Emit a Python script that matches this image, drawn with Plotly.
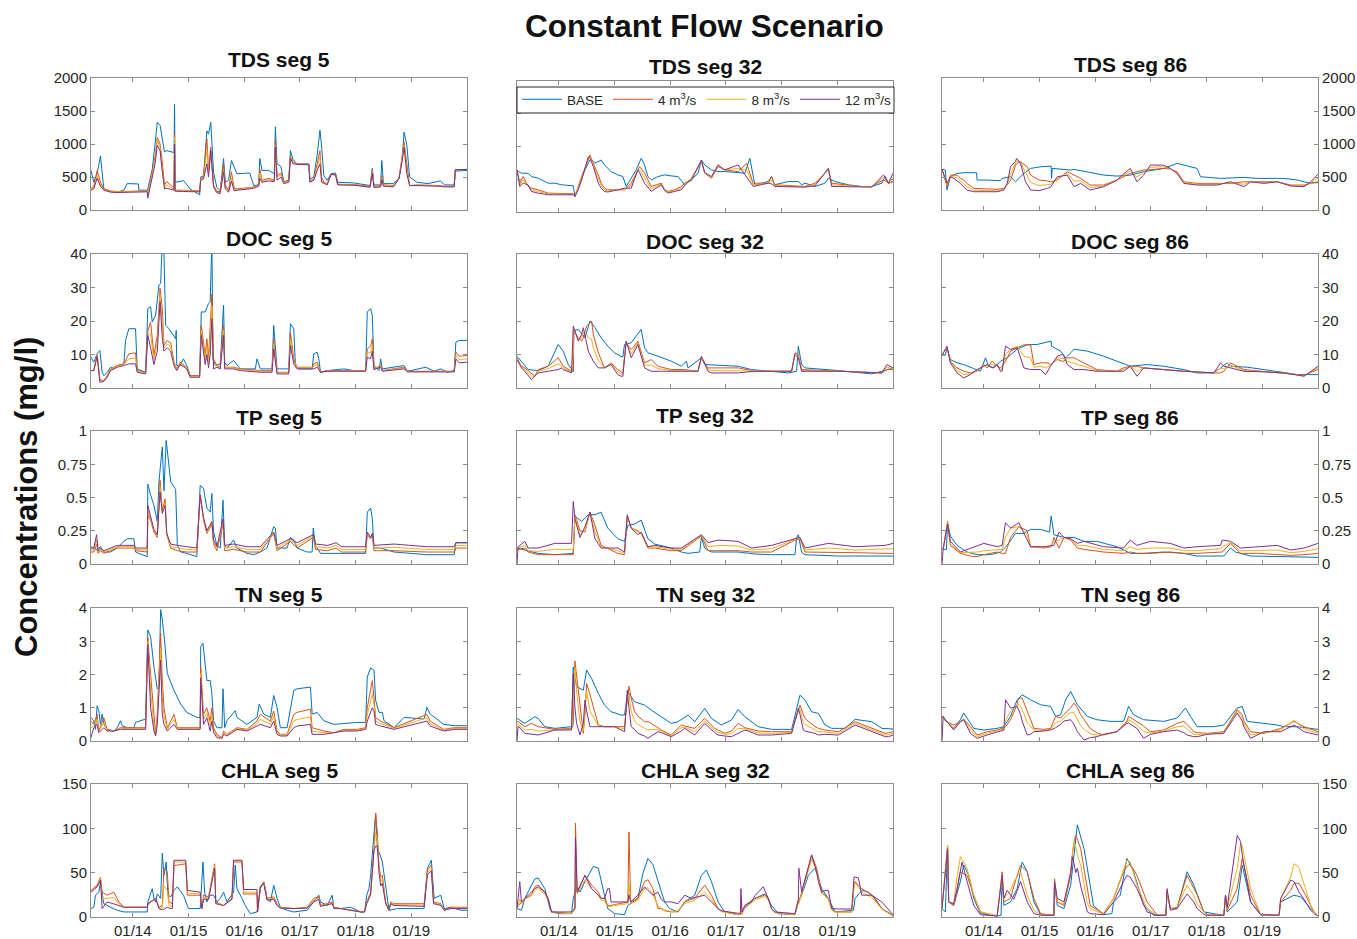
import plotly.graph_objects as go

# ---------------- categories / labels ----------------
series_names = ["BASE", "4 m<sup>3</sup>/s", "8 m<sup>3</sup>/s", "12 m<sup>3</sup>/s"]
x_tick_years = [2014, 2015, 2016, 2017, 2018, 2019]
x_tick_labels = ["01/14", "01/15", "01/16", "01/17", "01/18", "01/19"]
variables = ["TDS", "DOC", "TP", "TN", "CHLA"]
segments = [5, 32, 86]
y_ticks = {
    "TDS": [0, 500, 1000, 1500, 2000],
    "DOC": [0, 10, 20, 30, 40],
    "TP": [0, 0.25, 0.5, 0.75, 1],
    "TN": [0, 1, 2, 3, 4],
    "CHLA": [0, 50, 100, 150],
}
y_tick_labels = {
    "TDS": ["0", "500", "1000", "1500", "2000"],
    "DOC": ["0", "10", "20", "30", "40"],
    "TP": ["0", "0.25", "0.5", "0.75", "1"],
    "TN": ["0", "1", "2", "3", "4"],
    "CHLA": ["0", "50", "100", "150"],
}

# ---------------- data (decimal years, mg/l) ----------------
# TDS seg 5 (all series share one time list)
tds5_t = [2013.25,2013.30,2013.36,2013.42,2013.48,2013.60,2013.72,2013.84,2013.90,2014.10,
          2014.11,2014.26,2014.27,2014.35,2014.40,2014.44,2014.49,2014.52,2014.57,2014.61,
          2014.74,2014.75,2014.76,2014.91,2015.03,2015.20,2015.22,2015.27,2015.33,2015.36,
          2015.40,2015.45,2015.51,2015.57,2015.63,2015.66,2015.72,2015.77,2015.82,2015.87,
          2016.10,2016.17,2016.26,2016.28,2016.32,2016.44,2016.54,2016.56,2016.59,2016.66,
          2016.71,2016.80,2016.83,2016.88,2016.95,2017.16,2017.18,2017.25,2017.31,2017.36,
          2017.39,2017.43,2017.49,2017.56,2017.64,2017.68,2017.97,2018.26,2018.30,2018.33,
          2018.45,2018.47,2018.50,2018.68,2018.78,2018.84,2018.87,2018.92,2018.97,2019.10,
          2019.30,2019.52,2019.60,2019.77,2019.79,2020.00]
tds5_base = [600,420,550,820,320,280,270,300,400,395,
             300,300,320,620,1000,1330,1280,1120,880,900,
             870,1600,420,445,320,230,500,520,1200,1150,
             1330,570,340,290,780,420,450,750,650,550,
             560,370,380,780,600,600,550,1260,700,660,
             430,450,900,760,700,700,470,500,830,1210,
             970,520,450,550,560,420,410,370,630,380,
             380,750,400,400,480,800,1180,980,500,420,
             400,440,380,380,590,600]
tds5_q4 = [330,360,600,420,320,290,280,280,285,290,
           290,290,230,600,800,1100,1000,800,380,430,
           330,1170,300,300,300,290,480,500,1080,600,
           950,380,280,280,700,380,300,580,330,320,
           340,350,380,620,450,480,450,1050,520,560,
           420,450,820,720,700,690,440,470,700,900,
           500,420,400,540,540,390,385,360,600,360,
           370,520,380,370,480,800,1030,700,370,380,
           380,370,360,360,610,615]
tds5_q8 = [320,340,520,380,310,280,275,275,280,285,
           285,285,220,560,760,1050,950,700,330,380,
           310,1100,290,290,290,285,460,490,900,550,
           850,360,270,260,600,340,280,480,300,310,
           330,340,370,560,430,460,440,980,500,530,
           410,440,800,710,700,690,430,460,650,800,
           450,410,390,540,530,385,380,350,580,350,
           360,480,370,360,480,780,980,600,370,375,
           375,365,355,355,610,615]
tds5_q12 = [300,320,480,360,300,270,265,265,270,275,
            275,275,180,520,700,980,900,650,320,330,
            300,1000,285,280,280,275,450,470,700,500,
            900,350,260,250,580,320,270,440,290,300,
            320,330,360,480,420,440,430,950,450,500,
            400,420,780,700,690,685,420,450,600,700,
            420,400,380,540,530,380,375,345,560,340,
            350,460,360,350,480,760,950,550,370,370,
            370,360,350,350,610,615]

# DOC seg 5
doc5_tb = [2013.25,2013.30,2013.36,2013.41,2013.45,2013.48,2013.54,2013.60,2013.66,2013.72,
           2013.84,2013.87,2013.93,2014.05,2014.08,2014.23,2014.27,2014.32,2014.35,2014.41,
           2014.47,2014.50,2014.53,2014.56,2014.59,2014.65,2014.71,2014.77,2014.78,2014.79,
           2014.85,2014.91,2014.97,2015.03,2015.20,2015.23,2015.30,2015.36,2015.39,2015.42,
           2015.44,2015.48,2015.57,2015.63,2015.65,2015.69,2015.81,2015.93,2016.20,2016.23,
           2016.29,2016.50,2016.53,2016.56,2016.59,2016.80,2016.83,2016.89,2016.92,2016.98,
           2017.22,2017.25,2017.31,2017.34,2017.37,2017.49,2017.79,2017.97,2018.18,2018.21,
           2018.27,2018.30,2018.33,2018.42,2018.45,2018.48,2018.87,2018.93,2019.26,2019.41,
           2019.53,2019.65,2019.77,2019.80,2019.86,2020.00]
doc5_base = [9.2,7.7,10.2,11.2,4.7,3.7,4.7,6.2,5.7,6.7,
             7.2,14.2,17.7,17.7,5.7,4.7,23.7,24.2,19.7,21.7,
             30.8,31.3,44,40,18.7,17.7,16.2,14.7,17.2,6.7,
             6.7,8.7,6.7,3.7,3.7,22.7,22.7,25.2,25.7,44,
             8.7,6.7,7.2,24.7,7.7,6.7,8.2,5.7,5.7,8.7,
             5.7,5.7,18.7,10.7,5.7,5.7,19.2,17.7,6.7,5.7,
             5.7,10.2,10.7,8.7,4.7,5.2,5.7,5.2,5.2,22.7,
             23.7,21.7,6.7,5.2,8.7,5.7,6.7,5.0,6.2,5.0,
             5.7,4.7,5.2,13.7,14.2,14.2]
doc5_t = [2013.25,2013.30,2013.36,2013.39,2013.41,2013.48,2013.54,2013.60,2013.72,2013.84,
          2013.93,2014.05,2014.08,2014.23,2014.27,2014.32,2014.38,2014.44,2014.49,2014.53,
          2014.56,2014.62,2014.68,2014.74,2014.79,2014.85,2014.97,2015.03,2015.20,2015.23,
          2015.30,2015.33,2015.36,2015.39,2015.42,2015.45,2015.51,2015.57,2015.63,2015.65,
          2015.81,2015.93,2016.29,2016.50,2016.53,2016.59,2016.80,2016.83,2016.89,2016.95,
          2017.22,2017.25,2017.31,2017.37,2017.49,2018.18,2018.21,2018.27,2018.30,2018.33,
          2018.45,2018.48,2018.87,2018.93,2019.77,2019.80,2019.86,2020.00]
doc5_q4 = [5.2,5.2,10,4.7,2.5,2.2,3.7,5.7,6.7,7.2,
           10.2,10.5,5.2,4.7,17,19.7,9.7,15.7,29.8,23.7,
           12.7,14.2,13.5,7.7,5.7,7.7,6.2,3.7,3.7,18.7,
           9.7,14.7,8.7,18.7,28,8.7,6.7,6.2,18.7,6.2,
           6.2,5.7,5.2,5.2,14.7,4.7,4.7,16.7,8.7,6.2,
           6.2,7.2,7.7,4.7,5.2,5.2,11.7,12.5,14.7,5.7,
           6.7,5.2,6.2,5.0,5.0,10.7,9.5,9.7]
doc5_q8 = [5.2,5.2,9.8,4.3,2.1,2.1,3.5,5.5,6.5,7.0,
           8.7,8.9,5.0,4.5,16.3,16,8.4,13.4,27.8,19.4,
           11.9,13.1,12.3,7.2,5.5,7.4,6.0,3.5,3.5,17.2,
           8.4,12.4,7.4,14.4,24.4,7.2,6.5,6.0,17.2,6.0,
           6.0,5.5,5.0,5.0,13.2,4.5,4.5,14.7,8.0,6.0,
           6.0,6.5,7.0,4.7,5.1,5.1,10.5,10.6,12.9,5.6,
           6.5,5.1,6.0,4.9,4.9,9.7,8.5,8.7]
doc5_q12 = [5.2,5.2,9.5,4,1.7,2.0,3.2,5.2,6.2,6.7,
            7.2,7.2,4.7,4.2,15.7,12,7.0,11,25.8,15,
            11,12,11,6.7,5.2,7.0,5.7,3.2,3.2,15.7,
            7.0,10,6.0,10,20.7,5.7,6.2,5.7,15.7,5.7,
            5.7,5.2,4.7,4.7,11.7,4.2,4.2,12.7,7.2,5.7,
            5.7,5.7,6.2,4.7,5.0,5.0,9.2,8.7,11,5.5,
            6.2,5.0,5.7,4.8,4.8,8.7,7.5,7.7]

# TP seg 5
tp5_tb = [2013.25,2013.30,2013.36,2013.42,2013.48,2013.60,2013.72,2013.84,2013.90,2014.02,
          2014.05,2014.26,2014.27,2014.32,2014.38,2014.44,2014.47,2014.53,2014.56,2014.60,
          2014.68,2014.77,2014.80,2014.86,2014.97,2015.15,2015.21,2015.27,2015.33,2015.39,
          2015.42,2015.45,2015.51,2015.57,2015.62,2015.65,2015.69,2015.81,2015.87,2016.05,
          2016.17,2016.29,2016.41,2016.53,2016.56,2016.59,2016.77,2016.83,2016.89,2016.95,
          2017.13,2017.22,2017.24,2017.28,2017.37,2018.18,2018.21,2018.27,2018.30,2018.33,
          2018.45,2018.69,2019.28,2019.77,2019.80,2020.00]
tp5_base = [0.13,0.12,0.105,0.13,0.09,0.09,0.12,0.17,0.19,0.19,
            0.09,0.055,0.6,0.52,0.44,0.32,0.62,0.88,0.55,0.93,
            0.62,0.56,0.14,0.09,0.08,0.055,0.59,0.57,0.42,0.39,
            0.53,0.24,0.14,0.12,0.48,0.14,0.12,0.18,0.12,0.08,
            0.07,0.09,0.12,0.28,0.27,0.12,0.12,0.2,0.18,0.12,
            0.09,0.09,0.27,0.14,0.08,0.08,0.39,0.42,0.34,0.12,
            0.12,0.09,0.07,0.07,0.16,0.16]
tp5_t = [2013.25,2013.30,2013.35,2013.38,2013.42,2013.48,2013.60,2013.72,2013.84,2014.02,
         2014.05,2014.26,2014.27,2014.32,2014.38,2014.44,2014.49,2014.53,2014.58,2014.61,
         2014.68,2014.80,2014.97,2015.15,2015.21,2015.27,2015.33,2015.42,2015.45,2015.51,
         2015.62,2015.65,2015.81,2016.05,2016.29,2016.53,2016.59,2016.83,2016.95,2017.24,
         2017.28,2017.50,2017.65,2017.75,2018.18,2018.21,2018.27,2018.30,2018.33,2018.69,
         2019.28,2019.77,2019.80,2020.00]
tp5_q4 = [0.09,0.09,0.15,0.08,0.1,0.08,0.1,0.12,0.12,0.12,
          0.1,0.09,0.37,0.33,0.24,0.2,0.63,0.4,0.49,0.22,
          0.12,0.1,0.09,0.09,0.52,0.33,0.23,0.3,0.15,0.1,
          0.3,0.1,0.11,0.09,0.09,0.23,0.1,0.17,0.12,0.2,
          0.11,0.1,0.12,0.09,0.09,0.22,0.19,0.21,0.1,0.1,
          0.09,0.09,0.12,0.12]
tp5_q8 = [0.105,0.105,0.18,0.09,0.11,0.09,0.11,0.13,0.13,0.13,
          0.11,0.105,0.4,0.34,0.25,0.21,0.58,0.39,0.46,0.22,
          0.13,0.12,0.11,0.105,0.52,0.34,0.24,0.31,0.16,0.115,
          0.32,0.12,0.13,0.11,0.11,0.23,0.12,0.18,0.14,0.21,
          0.13,0.12,0.14,0.11,0.11,0.23,0.2,0.22,0.12,0.125,
          0.11,0.11,0.14,0.14]
tp5_q12 = [0.12,0.12,0.22,0.10,0.12,0.10,0.12,0.14,0.14,0.14,
           0.12,0.12,0.44,0.35,0.26,0.22,0.54,0.38,0.44,0.23,
           0.15,0.14,0.13,0.12,0.52,0.35,0.25,0.32,0.18,0.13,
           0.34,0.14,0.15,0.13,0.13,0.24,0.14,0.19,0.16,0.22,
           0.15,0.14,0.16,0.13,0.13,0.24,0.2,0.23,0.14,0.15,
           0.13,0.13,0.16,0.16]

# TN seg 5
tn5_tb = [2013.25,2013.30,2013.33,2013.36,2013.39,2013.42,2013.45,2013.48,2013.54,2013.66,
          2013.72,2013.78,2013.81,2013.90,2014.02,2014.05,2014.23,2014.27,2014.32,2014.38,
          2014.44,2014.47,2014.50,2014.53,2014.57,2014.62,2014.74,2014.86,2014.97,2015.15,
          2015.21,2015.22,2015.26,2015.33,2015.39,2015.42,2015.45,2015.51,2015.60,2015.62,
          2015.65,2015.69,2015.84,2015.87,2016.05,2016.23,2016.27,2016.35,2016.47,2016.53,
          2016.59,2016.65,2016.77,2016.89,2016.95,2017.19,2017.22,2017.31,2017.43,2017.61,
          2018.03,2018.18,2018.21,2018.27,2018.33,2018.36,2018.42,2018.48,2018.51,2018.69,
          2018.87,2019.23,2019.28,2019.34,2019.46,2019.58,2019.77,2020.00]
tn5_base = [0.71,0.6,0.35,1.06,0.91,0.5,0.81,0.5,0.35,0.3,
            0.4,0.61,0.46,0.4,0.4,0.56,0.66,3.34,3.14,2.23,
            1.57,1.6,3.95,3.65,3.04,2.03,1.52,1.11,0.86,0.71,
            0.71,2.84,2.94,1.82,1.82,1.42,0.61,0.4,0.4,1.57,
            0.4,0.61,0.91,0.71,0.5,0.71,1.11,0.81,0.71,1.37,
            1.01,0.4,0.4,1.52,1.57,1.62,0.81,0.86,0.61,0.5,
            0.56,0.56,1.92,2.2,2.13,1.22,0.86,0.86,0.61,0.4,
            0.71,0.66,1.01,0.81,0.66,0.5,0.46,0.46]
tn5_t = [2013.25,2013.30,2013.36,2013.39,2013.48,2013.54,2013.66,2013.78,2014.23,2014.27,
         2014.32,2014.38,2014.41,2014.44,2014.50,2014.53,2014.56,2014.62,2014.74,2014.80,
         2015.21,2015.22,2015.27,2015.33,2015.39,2015.42,2015.45,2015.51,2015.60,2015.63,
         2015.69,2015.87,2016.05,2016.23,2016.29,2016.47,2016.53,2016.59,2016.65,2016.77,
         2016.89,2016.95,2017.19,2017.22,2017.31,2017.43,2017.61,2017.79,2018.03,2018.18,
         2018.21,2018.30,2018.33,2018.36,2018.45,2018.69,2019.28,2019.34,2019.58,2019.77,
         2020.00]
tn5_q4 = [0.6,0.5,0.8,0.3,0.7,0.35,0.3,0.4,0.4,3.1,
          2.0,0.6,0.2,0.8,3.24,1.82,1.0,0.4,0.8,0.4,
          0.4,2.23,0.8,1.0,0.6,1.0,0.4,0.2,0.1,0.3,
          0.2,0.4,0.35,0.6,0.8,0.6,0.9,0.3,0.2,0.2,
          0.8,0.86,0.96,0.4,0.35,0.3,0.25,0.35,0.35,0.4,
          1.0,1.82,1.3,0.7,0.6,0.4,0.8,0.6,0.35,0.4,
          0.4]
tn5_q8 = [0.4,0.45,0.65,0.28,0.55,0.32,0.3,0.38,0.38,3.0,
          1.5,0.45,0.18,0.65,2.8,1.3,0.75,0.35,0.65,0.38,
          0.38,2.05,0.65,0.85,0.45,0.8,0.32,0.15,0.09,0.25,
          0.18,0.38,0.32,0.52,0.65,0.5,0.75,0.25,0.18,0.18,
          0.6,0.65,0.72,0.3,0.28,0.25,0.25,0.32,0.32,0.38,
          0.8,1.4,1.1,0.6,0.52,0.38,0.7,0.52,0.32,0.38,
          0.38]
tn5_q12 = [0.1,0.4,0.5,0.25,0.4,0.3,0.3,0.35,0.35,2.9,
           1.0,0.3,0.15,0.5,2.43,0.8,0.5,0.3,0.5,0.35,
           0.35,1.9,0.5,0.7,0.3,0.6,0.25,0.1,0.08,0.2,
           0.15,0.35,0.3,0.45,0.5,0.4,0.6,0.2,0.15,0.15,
           0.4,0.45,0.5,0.2,0.2,0.2,0.25,0.3,0.3,0.35,
           0.6,1.0,0.9,0.5,0.45,0.35,0.6,0.45,0.3,0.35,
           0.35]

# CHLA seg 5
chla5_tb = [2013.25,2013.30,2013.33,2013.39,2013.42,2013.45,2013.48,2013.60,2013.72,2013.84,
            2014.08,2014.26,2014.27,2014.35,2014.38,2014.41,2014.44,2014.50,2014.53,2014.56,
            2014.60,2014.63,2014.68,2014.74,2014.80,2014.91,2015.00,2015.21,2015.26,2015.29,
            2015.33,2015.39,2015.45,2015.51,2015.57,2015.63,2015.69,2015.81,2015.84,2015.87,
            2015.96,2016.02,2016.11,2016.23,2016.29,2016.35,2016.38,2016.41,2016.47,2016.53,
            2016.59,2016.65,2016.77,2016.89,2017.13,2017.25,2017.34,2017.37,2017.49,2017.58,
            2017.61,2017.73,2017.91,2018.09,2018.16,2018.20,2018.24,2018.27,2018.36,2018.39,
            2018.44,2018.48,2018.54,2018.60,2018.75,2019.23,2019.29,2019.36,2019.41,2019.53,
            2019.59,2019.71,2019.89,2020.00]
chla5_base = [9.5,11,24.6,28,39.7,28,15,11,7.6,5.7,
              5.7,5.7,17,32,21,17,26,21,72,47,
              62,24.6,22.7,30,34,24.6,9.5,9.5,62,28,
              17,24.6,24.6,17,21,28,17,28,58.6,32,
              21,13,3.8,5.7,32,39.7,32,21,17,36,
              21,11,7.6,5.7,7.6,17,24.6,17,13,24.6,
              9.5,9.5,11,5.7,5.7,24.6,32,47,117,77,
              70,62,32,7.6,9.5,9.5,55,64,21,24.6,
              9.5,11,7.6,7.6]
chla5_t = [2013.25,2013.36,2013.42,2013.45,2013.54,2013.66,2013.75,2013.84,2014.26,2014.27,
           2014.32,2014.41,2014.47,2014.53,2014.56,2014.62,2014.65,2014.71,2014.74,2014.95,
           2014.98,2015.21,2015.24,2015.27,2015.36,2015.42,2015.47,2015.49,2015.63,2015.78,
           2015.81,2015.96,2015.99,2016.23,2016.24,2016.29,2016.35,2016.41,2016.53,2016.59,
           2016.65,2016.89,2017.13,2017.25,2017.34,2017.37,2017.58,2017.61,2017.73,2018.09,
           2018.16,2018.20,2018.27,2018.33,2018.36,2018.39,2018.42,2018.45,2018.48,2018.54,
           2018.60,2018.63,2018.69,2019.23,2019.29,2019.36,2019.40,2019.53,2019.59,2019.71,
           2020.00]
chla5_q4 = [30,36,45,28,24.6,28,17,11,11,13,
            17,21,11,13,55,51,17,15,58,60,
            24.6,24.6,9.5,24.6,22.7,43,60,17,13,21,
            62,62,26,26,5.7,34,39.7,21,22.7,15,
            11,9.5,11,21,22.7,13,17,11,9.5,5.7,
            5.7,17,28,77,117,96,58.6,45,47,17,
            7.6,17,15,15,53,58.6,17,15,7.6,11,
            11]
chla5_q8 = [29,35,44,20,21,22,15,11,11,14,
            17,21,10,10,35,30,13,12,62,62,
            27,26,9.5,22,21,42,58,16,13,20,
            63,63,28,28,5.7,34,39,20,21,14,
            10.5,9.5,10.5,19,21,12.5,16,10.5,9.5,5.7,
            5.7,16,26,76,95,88,55,40,42,16,
            7.6,16,14,13.5,50,55,16,14,7.6,10,
            10]
chla5_q12 = [28,34,41.6,9.5,17,15,13,11,11,15,
             17,21,9.5,8,9,11,10,9.5,64,64,
             30,28,9.5,20,20,40,55,15,13,20,
             64,64,31,31,5.7,34,38,19,20,13,
             10,9.5,10,17,20,12,15,10,9.5,5.7,
             5.7,15,25,75,80,80,50,35,38,15,
             7.6,15,13,12,48,52,15,13,7.6,9.5,
             9.5]

# TDS seg 32
tds32_tb = [2013.25,2013.33,2013.45,2013.51,2013.63,2013.81,2013.93,2014.05,2014.26,2014.29,
            2014.38,2014.47,2014.56,2014.59,2014.65,2014.76,2014.82,2014.94,2015.06,2015.15,
            2015.21,2015.30,2015.39,2015.48,2015.54,2015.60,2015.66,2015.78,2015.90,2016.02,
            2016.14,2016.26,2016.38,2016.50,2016.56,2016.62,2016.74,2016.86,2016.98,2017.22,
            2017.34,2017.43,2017.49,2017.52,2017.76,2017.82,2017.87,2018.12,2018.30,2018.36,
            2018.42,2018.60,2018.78,2018.84,2018.96,2019.20,2019.44,2019.62,2019.80,2019.86,
            2019.92,2020.00]
tds32_base = [632,592,592,541,516,440,440,415,400,238,
              440,642,794,794,744,794,719,617,567,541,
              390,516,642,820,719,541,491,541,567,551,
              541,415,491,592,794,719,642,617,617,602,
              592,820,541,415,465,541,415,465,465,415,
              440,390,440,516,465,415,390,390,440,541,
              440,465]
tds32_t = [2013.25,2013.30,2013.36,2013.45,2013.51,2013.63,2013.81,2014.05,2014.26,2014.29,
           2014.35,2014.41,2014.53,2014.56,2014.62,2014.71,2014.76,2014.82,2014.88,2015.06,
           2015.18,2015.30,2015.42,2015.45,2015.54,2015.66,2015.84,2015.90,2015.96,2016.08,
           2016.20,2016.26,2016.32,2016.38,2016.56,2016.62,2016.74,2016.86,2016.98,2017.22,
           2017.37,2017.49,2017.76,2017.82,2017.88,2018.42,2018.60,2018.84,2018.90,2019.38,
           2019.62,2019.83,2019.92,2020.00]
tds32_q4 = [643,440,541,390,364,339,288,288,278,238,
            390,541,794,870,744,567,440,364,339,339,
            339,440,643,693,592,390,440,339,314,339,
            390,440,465,516,769,592,516,693,643,617,
            744,440,440,541,415,390,440,643,440,390,
            390,491,440,465]
tds32_q8 = [643,415,490,400,340,313,275,275,270,238,
            365,515,820,845,718,503,402,339,322,339,
            351,402,642,646,516,352,427,335,301,326,
            364,420,465,498,780,596,528,706,643,668,
            642,415,440,485,402,385,420,655,415,390,
            385,529,440,528]
tds32_q12 = [643,390,440,415,314,288,263,263,263,238,
             339,490,845,820,693,440,364,314,305,339,
             364,364,642,600,440,314,415,330,288,314,
             339,400,465,480,794,600,541,719,643,719,
             541,390,440,430,390,380,400,668,390,390,
             380,567,440,592]

# DOC seg 32
doc32_tb = [2013.25,2013.33,2013.45,2013.63,2013.81,2013.99,2014.08,2014.17,2014.26,2014.27,
            2014.35,2014.47,2014.56,2014.65,2014.76,2014.88,2015.00,2015.15,2015.18,2015.30,
            2015.39,2015.48,2015.54,2015.60,2015.78,2016.02,2016.20,2016.29,2016.32,2016.56,
            2016.62,2016.86,2017.22,2017.46,2017.82,2018.12,2018.27,2018.30,2018.36,2018.42,
            2019.02,2019.32,2019.62,2019.80,2020.00]
doc32_base = [9.5,8,5.5,5.2,6.5,13,11,7,5,17,
              17.5,15,20,18,15,12.5,10.5,9.2,13,13.5,
              15.5,17.5,12,10.5,9.5,8,6.5,8,6,9,
              7,6.8,6.5,5.5,5,4.5,5,12.5,7,6,
              5.2,4.8,4.2,5,6]
doc32_t = [2013.25,2013.33,2013.39,2013.51,2013.57,2013.63,2013.81,2013.99,2014.05,2014.08,
           2014.23,2014.26,2014.27,2014.35,2014.41,2014.44,2014.50,2014.53,2014.59,2014.62,
           2014.71,2014.82,2014.94,2015.06,2015.12,2015.15,2015.21,2015.30,2015.33,2015.42,
           2015.54,2015.66,2015.78,2016.02,2016.26,2016.50,2016.56,2016.68,2016.74,2017.22,
           2017.52,2018.12,2018.18,2018.24,2018.30,2018.36,2019.02,2019.80,2019.89,2020.00]
doc32_q4 = [9,6.5,6,4.5,3.5,5.5,6.5,9,7,6.5,
            5,5,17,15,14,15,18.5,19,20,16,
            10.5,6,7.5,5.5,5,4.5,13.5,11.5,12,14,
            7.5,8.5,6.5,5.5,5.5,5,9,6,6,6,
            5,5,5,10.5,10,5.5,5,4.5,5.5,5.5]
doc32_q8 = [8.8,6.2,5.5,3.5,3.5,5,5.8,7.2,6.5,6,
            4.8,11,17.5,14.5,15,16.5,16,15,14.5,12,
            8.2,6,7.2,4.8,4.2,4,13.8,10.2,11,13.5,
            6.8,6.8,5.8,5.2,5.2,5,9.2,5.5,5.2,5.2,
            5,5,5,10.2,9.5,5.2,5,4.5,6.2,5.8]
doc32_q12 = [8.5,6,5,2.5,3.5,4.5,5,5.5,6,5.5,
             4.5,18.5,18,14,16,18,13,11,9,8,
             6,6,7,4,3.5,3.5,14,9,10,13,
             6,5,5,5,5,5,9.5,5,4.5,4.5,
             5,5,5,10,9,5,5,4.5,7,6]

# TP seg 32
tp32_tb = [2013.25,2013.63,2013.93,2014.23,2014.26,2014.29,2014.41,2014.53,2014.65,2014.76,
           2014.88,2015.06,2015.18,2015.24,2015.36,2015.48,2015.60,2015.72,2016.02,2016.20,
           2016.32,2016.53,2016.56,2016.62,2016.74,2017.22,2017.52,2017.82,2018.24,2018.27,
           2018.30,2018.36,2018.42,2019.02,2020.00]
tp32_base = [0.12,0.08,0.07,0.08,0.08,0.36,0.32,0.37,0.37,0.39,
             0.27,0.19,0.17,0.29,0.3,0.33,0.19,0.15,0.12,0.09,
             0.08,0.09,0.2,0.12,0.09,0.09,0.075,0.07,0.07,0.2,
             0.22,0.09,0.07,0.06,0.06]
tp32_t = [2013.25,2013.27,2013.39,2013.45,2013.63,2013.93,2014.23,2014.26,2014.29,2014.38,
          2014.47,2014.56,2014.65,2014.76,2015.06,2015.18,2015.23,2015.30,2015.42,2015.48,
          2015.60,2015.72,2016.02,2016.20,2016.56,2016.68,2016.86,2017.22,2017.46,2017.82,
          2018.24,2018.33,2018.42,2018.84,2019.32,2019.86,2020.00]
tp32_q4 = [0.11,0.11,0.12,0.09,0.07,0.07,0.07,0.07,0.37,0.25,
           0.24,0.39,0.29,0.14,0.08,0.07,0.36,0.27,0.25,0.23,
           0.12,0.12,0.1,0.1,0.21,0.1,0.1,0.1,0.09,0.09,
           0.18,0.19,0.09,0.09,0.085,0.08,0.08]
tp32_q8 = [0.12,0.12,0.14,0.1,0.095,0.11,0.11,0.11,0.36,0.22,
           0.26,0.39,0.24,0.13,0.1,0.08,0.36,0.27,0.24,0.23,
           0.125,0.13,0.11,0.11,0.215,0.13,0.14,0.135,0.105,0.115,
           0.185,0.195,0.105,0.12,0.105,0.11,0.115]
tp32_q12 = [0.0,0.13,0.17,0.12,0.12,0.155,0.155,0.47,0.34,0.2,
            0.28,0.39,0.19,0.12,0.12,0.09,0.37,0.27,0.22,0.24,
            0.13,0.14,0.12,0.12,0.22,0.16,0.18,0.17,0.12,0.14,
            0.19,0.2,0.12,0.155,0.13,0.14,0.155]

# TN seg 32
tn32_tb = [2013.25,2013.39,2013.57,2013.63,2013.75,2013.93,2014.23,2014.26,2014.32,2014.44,
           2014.50,2014.59,2014.71,2014.82,2014.94,2015.12,2015.18,2015.24,2015.36,2015.54,
           2015.66,2015.84,2016.02,2016.14,2016.32,2016.44,2016.62,2016.74,2016.92,2017.10,
           2017.22,2017.34,2017.58,2017.82,2018.18,2018.33,2018.42,2018.54,2018.66,2018.78,
           2018.90,2019.14,2019.32,2019.62,2019.80,2020.00]
tn32_base = [0.68,0.53,0.73,0.68,0.43,0.38,0.43,2.23,1.63,1.53,
             2.13,1.88,1.43,1.08,0.88,0.78,0.78,1.48,1.18,1.08,
             0.93,0.73,0.53,0.58,0.78,0.58,0.98,0.68,0.48,0.63,
             0.95,0.73,0.43,0.35,0.35,1.38,1.23,0.88,0.83,0.48,
             0.38,0.38,0.65,0.58,0.38,0.36]
tn32_t = [2013.25,2013.27,2013.39,2013.51,2013.63,2013.93,2014.23,2014.26,2014.29,2014.32,
          2014.38,2014.44,2014.47,2014.50,2014.56,2014.59,2014.71,2014.82,2015.00,2015.18,
          2015.23,2015.26,2015.30,2015.36,2015.42,2015.54,2015.60,2015.66,2015.78,2015.84,
          2016.02,2016.20,2016.26,2016.44,2016.62,2016.80,2016.86,2016.98,2017.10,2017.22,
          2017.34,2017.40,2017.58,2017.82,2018.18,2018.30,2018.33,2018.39,2018.42,2018.60,
          2018.66,2018.78,2018.90,2019.02,2019.32,2019.62,2019.86,2019.92,2020.00]
tn32_q4 = [0.58,0.58,0.43,0.53,0.43,0.35,0.38,0.5,2.41,2.0,
           1.23,0.23,0.8,1.73,1.4,1.23,0.48,0.43,0.43,0.43,
           1.2,1.65,1.3,0.88,0.75,0.58,0.58,0.53,0.4,0.33,
           0.18,0.48,0.45,0.38,0.68,0.38,0.33,0.23,0.3,0.53,
           0.4,0.38,0.3,0.28,0.28,0.9,1.08,0.8,0.68,0.43,
           0.38,0.33,0.3,0.28,0.58,0.38,0.23,0.25,0.28]
tn32_q8 = [0.5,0.5,0.33,0.35,0.3,0.34,0.36,1.2,2.2,1.5,
           0.6,0.3,1.0,1.5,0.9,0.8,0.45,0.43,0.43,0.36,
           1.4,1.4,0.9,0.6,0.5,0.38,0.33,0.35,0.34,0.3,
           0.15,0.4,0.42,0.28,0.6,0.32,0.26,0.2,0.22,0.38,
           0.37,0.34,0.24,0.23,0.26,0.95,0.95,0.55,0.5,0.33,
           0.28,0.27,0.24,0.23,0.53,0.33,0.18,0.19,0.23]
tn32_q12 = [0.0,0.45,0.23,0.2,0.18,0.33,0.33,2.03,1.0,0.53,
            0.18,0.53,1.23,0.9,0.43,0.43,0.43,0.43,0.43,0.28,
            1.53,1.0,0.43,0.35,0.23,0.15,0.08,0.15,0.28,0.25,
            0.13,0.3,0.38,0.18,0.53,0.25,0.18,0.15,0.13,0.23,
            0.33,0.3,0.18,0.18,0.23,0.98,0.8,0.33,0.3,0.23,
            0.18,0.2,0.18,0.18,0.48,0.28,0.13,0.13,0.18]

# CHLA seg 32
chla32_tb = [2013.25,2013.33,2013.39,2013.57,2013.63,2013.75,2013.84,2013.87,2013.99,2014.23,
             2014.26,2014.32,2014.38,2014.47,2014.62,2014.71,2014.82,2014.88,2015.00,2015.18,
             2015.24,2015.33,2015.42,2015.51,2015.60,2015.69,2015.78,2015.90,2015.99,2016.14,
             2016.26,2016.44,2016.56,2016.65,2016.74,2016.86,2016.98,2017.22,2017.34,2017.52,
             2017.70,2017.82,2017.94,2018.24,2018.30,2018.36,2018.48,2018.60,2018.72,2018.84,
             2018.96,2019.29,2019.32,2019.44,2019.56,2019.68,2019.80,2020.00]
chla32_base = [9.5,7.6,21,43,44,32,9.5,5.7,3.8,3.8,
               21,34,28,40,57,55,24.6,9.5,3.8,2.6,
               13,17,21,49,66,59,40,17,9.5,5.7,
               17,24.6,47,53,40,17,5.7,2.6,9.5,21,
               26,13,3.8,2.6,17,24.6,47,55,32,21,
               5.7,7.6,21,30,28,21,9.5,1.9]
chla32_t = [2013.25,2013.30,2013.33,2013.39,2013.51,2013.57,2013.63,2013.75,2013.81,2013.87,
            2014.23,2014.29,2014.30,2014.33,2014.47,2014.59,2014.71,2014.76,2014.82,2014.88,
            2014.91,2014.94,2015.00,2015.21,2015.24,2015.26,2015.29,2015.42,2015.54,2015.60,
            2015.69,2015.78,2015.84,2015.90,2016.02,2016.14,2016.26,2016.38,2016.44,2016.62,
            2016.74,2016.86,2016.92,2017.22,2017.26,2017.27,2017.29,2017.34,2017.46,2017.52,
            2017.67,2017.70,2017.76,2017.82,2017.88,2018.24,2018.30,2018.31,2018.36,2018.54,
            2018.63,2018.66,2018.72,2018.78,2018.84,2018.90,2018.96,2019.02,2019.26,2019.30,
            2019.32,2019.38,2019.44,2019.62,2019.80,2020.00]
chla32_q4 = [11,15,15,21,25,34,36,28,21,5.7,
             3.8,9,106,28,47,36,28,21,21,13,
             13,13,14,17,17,96,17,21,40,42,
             32,9.5,9.5,7,5.7,6,17,20,21,36,
             24.6,9.5,7,2.6,3,20,3,13,18,21,
             24,25,22,9.5,5,2.6,17,17,28,70,
             55,45,28,24.6,20,9,5.7,5.7,5.7,35,
             40,35,32,24.6,9.5,1.1]
chla32_q8 = [10,20,15,20,24,30,32,26,19,5,
             3.8,9,60,26,42,32,25,19,18,12,
             12,12,13,15,15,40,15,19,32,33,
             26,12,10,8,6,7,15,18,19,28,
             20,9,6,2.6,3,12,3,12,16,19,
             22,23,20,9,5,2.6,15,15,26,65,
             52,42,27,24,20,8,5.5,5.5,5.5,34,
             38,34,28,22,9,1.1]
chla32_q12 = [9.5,40,17,21,28,32,34,28,20,5.7,
              5.7,10,90,28,47,32,24.6,21,21,32,
              32,17,17,17,17,25,17,24.6,34,30,
              24.6,28,20,17,17,15,24.6,21,22,24.6,
              17,9.5,7,3.8,3.8,32,5.7,13,17,24,
              34,30,21,9.5,5.7,3.8,20,55,28,70,
              51,40,28,30,30,9.5,9,9,9,45,
              45,44,24.6,24.6,17,2.6]

# TDS seg 86
tds86_tb = [2013.25,2013.31,2013.34,2013.40,2013.52,2013.64,2013.87,2013.88,2014.06,2014.30,
            2014.33,2014.48,2014.57,2014.72,2014.84,2015.02,2015.21,2015.215,2015.23,2015.56,
            2015.62,2015.86,2016.15,2016.39,2016.63,2016.87,2017.23,2017.47,2017.71,2017.83,
            2017.89,2018.25,2018.67,2018.91,2019.39,2019.63,2019.81,2020.00]
tds86_base = [620,605,302,504,554,565,565,454,454,444,
              479,504,428,554,630,655,665,479,630,605,
              615,580,529,514,529,580,630,706,655,630,
              504,479,494,479,479,454,413,413]
tds86_t = [2013.25,2013.34,2013.40,2013.46,2013.52,2013.58,2013.64,2013.70,2013.82,2014.24,
           2014.36,2014.42,2014.48,2014.57,2014.59,2014.66,2014.75,2014.78,2014.84,2014.90,
           2014.99,2015.14,2015.20,2015.32,2015.50,2015.62,2015.68,2015.74,2015.91,2016.15,
           2016.39,2016.45,2016.63,2016.75,2016.87,2016.99,2017.23,2017.35,2017.47,2017.59,
           2017.83,2018.19,2018.43,2018.67,2018.79,2019.03,2019.27,2019.51,2019.75,2019.87,
           2020.00]
tds86_q4 = [620,353,529,529,529,480,454,400,328,313,
            330,378,450,680,700,731,680,655,530,504,
            454,440,428,454,580,530,504,480,378,378,
            454,480,554,580,605,610,630,620,580,428,
            403,403,403,428,428,428,428,378,378,403,
            428]
tds86_q8 = [620,378,516,504,485,440,400,350,300,290,
            316,390,550,710,740,720,550,520,420,400,
            370,385,390,480,555,440,440,440,340,365,
            452,492,590,500,567,645,655,625,567,415,
            390,390,415,390,428,415,428,370,365,415,
            486]
tds86_q12 = [620,403,504,479,440,403,350,302,277,277,
             302,400,655,740,781,706,428,380,302,300,
             292,328,350,504,529,353,380,403,302,353,
             450,504,630,428,529,680,680,630,554,403,
             378,378,428,353,428,403,428,363,353,428,
             544]

# DOC seg 86
doc86_tb = [2013.25,2013.31,2013.34,2013.40,2013.52,2013.64,2013.82,2013.94,2014.03,2014.09,
            2014.18,2014.30,2014.42,2014.60,2014.78,2014.96,2015.21,2015.215,2015.38,2015.47,
            2015.56,2015.62,2015.86,2016.15,2016.39,2016.63,2016.93,2017.23,2017.59,2017.83,
            2018.13,2018.37,2018.43,2018.73,2019.03,2019.39,2019.63,2020.00]
doc86_base = [9.8,9.8,12,8.5,7.5,7,5.8,5,9,6.5,
              6,8,9,11.6,12.9,13,14,12.5,11,9,
              10.5,11.6,11,9.5,8,6.5,7,6.5,5.5,4.5,
              4.5,7.5,6.5,6.2,5.5,4.5,4,4]
doc86_t = [2013.25,2013.34,2013.40,2013.52,2013.64,2013.76,2013.88,2014.00,2014.06,2014.15,
           2014.24,2014.30,2014.33,2014.39,2014.48,2014.60,2014.72,2014.84,2014.90,2015.02,
           2015.11,2015.14,2015.20,2015.32,2015.41,2015.44,2015.50,2015.62,2015.68,2015.80,
           2016.03,2016.39,2016.51,2016.63,2016.75,2016.87,2017.23,2017.59,2018.13,2018.25,
           2018.31,2018.43,2018.67,2019.03,2019.39,2019.75,2020.00]
doc86_q4 = [9.8,12,8,6,5,4.5,5,7,6,8,
            6.5,6,6.5,8,11,12,12.9,12.9,7,7.5,
            7.5,7.5,7,8.5,8,8,9,9,8.5,7.5,
            5.5,5,6,6.5,6.5,6,5.5,5,4.5,4.5,
            5,7.5,5.5,5,4.5,3.8,5.5]
doc86_q8 = [9.8,12.2,7.8,5.2,4,4.2,5.2,6.8,6.5,7,
            6.8,5.5,5.8,10,11.5,12.5,9.5,9,6.2,6.5,
            6,6.2,6.8,9,9,8.8,8,7.2,7,6.5,
            5.2,5,5.5,6.5,5,6,5.5,5,4.5,6,
            5.8,6.8,5.2,4.9,4.5,3.6,6]
doc86_q12 = [9.8,12.5,7.5,4.5,3,4,5.5,6.5,7,6,
             7,5,5,12.5,11.5,12,6,5.5,5.5,5.5,
             4,5,6.5,9.5,10,9.5,7,5.5,5.5,5.5,
             5,5,5,6.5,3.5,6,5.5,5,4.5,7.5,
             6.5,6,5,4.8,4.5,3.5,6.5]

# TP seg 86
tp86_tb = [2013.25,2013.33,2013.35,2013.40,2013.52,2013.70,2013.88,2014.12,2014.30,2014.42,
           2014.57,2014.72,2014.84,2015.02,2015.18,2015.21,2015.26,2015.44,2015.62,2015.80,
           2016.03,2016.39,2016.63,2016.87,2017.23,2017.59,2017.83,2018.31,2018.43,2018.52,
           2018.79,2019.39,2020.00]
tp86_base = [0.11,0.11,0.31,0.21,0.14,0.09,0.07,0.07,0.09,0.14,
             0.23,0.23,0.26,0.26,0.24,0.36,0.22,0.2,0.2,0.17,
             0.17,0.13,0.08,0.08,0.09,0.08,0.06,0.06,0.12,0.09,
             0.06,0.055,0.05]
tp86_t = [2013.25,2013.27,2013.35,2013.40,2013.58,2013.76,2013.88,2014.00,2014.24,2014.33,
          2014.39,2014.48,2014.63,2014.78,2014.84,2015.08,2015.21,2015.26,2015.35,2015.44,
          2015.56,2015.68,2015.80,2016.15,2016.51,2016.63,2016.75,2016.99,2017.35,2017.59,
          2017.83,2018.25,2018.28,2018.43,2018.61,2018.91,2019.27,2019.51,2019.75,2020.00]
tp86_q4 = [0.11,0.11,0.32,0.14,0.08,0.06,0.055,0.07,0.09,0.08,
           0.08,0.2,0.28,0.25,0.13,0.12,0.13,0.2,0.12,0.2,
           0.18,0.12,0.11,0.09,0.08,0.09,0.08,0.08,0.09,0.08,
           0.08,0.09,0.09,0.155,0.08,0.08,0.07,0.065,0.07,0.08]
tp86_q8 = [0.11,0.11,0.31,0.15,0.085,0.09,0.09,0.1,0.11,0.11,
           0.2,0.27,0.28,0.22,0.13,0.125,0.135,0.17,0.18,0.2,
           0.185,0.14,0.14,0.11,0.1,0.13,0.11,0.12,0.12,0.1,
           0.1,0.115,0.13,0.16,0.1,0.1,0.105,0.085,0.095,0.115]
tp86_q12 = [0.0,0.11,0.3,0.17,0.09,0.12,0.14,0.155,0.13,0.14,
            0.31,0.27,0.31,0.19,0.13,0.13,0.14,0.14,0.24,0.2,
            0.19,0.155,0.17,0.13,0.12,0.18,0.14,0.17,0.155,0.12,
            0.13,0.14,0.18,0.17,0.12,0.13,0.14,0.105,0.12,0.155]

# TN seg 86
tn86_tb = [2013.25,2013.34,2013.46,2013.58,2013.64,2013.70,2013.82,2014.00,2014.24,2014.36,
           2014.48,2014.60,2014.69,2014.84,2015.02,2015.20,2015.29,2015.38,2015.47,2015.56,
           2015.68,2015.86,2016.03,2016.27,2016.51,2016.60,2016.69,2016.87,2017.23,2017.47,
           2017.62,2017.71,2017.83,2018.13,2018.31,2018.55,2018.64,2018.73,2019.03,2019.27,
           2019.39,2019.63,2020.00]
tn86_base = [0.74,0.59,0.38,0.64,0.84,0.69,0.38,0.33,0.38,0.43,
             0.74,1.24,1.39,1.24,1.09,1.04,0.74,0.79,1.24,1.49,
             1.09,0.74,0.64,0.59,0.59,1.04,0.79,0.64,0.59,0.69,
             0.99,0.74,0.43,0.43,0.48,0.99,1.04,0.59,0.54,0.48,
             0.43,0.43,0.35]
tn86_t = [2013.25,2013.27,2013.31,2013.46,2013.58,2013.64,2013.76,2013.88,2014.06,2014.24,
          2014.36,2014.39,2014.48,2014.60,2014.61,2014.66,2014.69,2014.78,2014.84,2014.90,
          2015.08,2015.20,2015.29,2015.38,2015.44,2015.56,2015.62,2015.68,2015.74,2015.80,
          2015.91,2016.03,2016.15,2016.39,2016.57,2016.60,2016.75,2016.87,2016.99,2017.23,
          2017.47,2017.59,2017.65,2017.77,2017.83,2018.01,2018.31,2018.55,2018.64,2018.67,
          2018.79,2019.03,2019.33,2019.57,2019.75,2020.00]
tn86_q4 = [0.74,0.74,0.6,0.48,0.58,0.66,0.43,0.18,0.28,0.33,
           0.4,0.43,0.64,1.1,1.24,1.3,1.29,0.9,0.69,0.38,
           0.35,0.38,0.74,0.69,0.8,1.0,1.14,1.0,0.79,0.65,
           0.38,0.25,0.18,0.28,0.6,0.74,0.59,0.45,0.28,0.33,
           0.53,0.59,0.5,0.28,0.25,0.23,0.28,0.94,0.79,0.6,
           0.28,0.23,0.38,0.59,0.43,0.28]
tn86_q8 = [0.74,0.74,0.62,0.4,0.58,0.65,0.33,0.13,0.23,0.3,
           0.36,0.6,0.9,1.1,1.12,1.05,0.95,0.55,0.45,0.33,
           0.32,0.35,0.55,0.6,0.7,0.85,0.85,0.65,0.45,0.35,
           0.22,0.18,0.19,0.28,0.56,0.64,0.48,0.28,0.24,0.3,
           0.43,0.45,0.35,0.2,0.19,0.22,0.25,0.9,0.7,0.52,
           0.18,0.25,0.33,0.62,0.36,0.23]
tn86_q12 = [0.0,0.74,0.64,0.33,0.58,0.64,0.23,0.08,0.18,0.28,
            0.33,1.24,0.99,1.04,1.0,0.8,0.6,0.18,0.2,0.28,
            0.3,0.33,0.4,0.5,0.6,0.64,0.5,0.28,0.15,0.03,
            0.1,0.13,0.2,0.28,0.53,0.54,0.38,0.08,0.2,0.28,
            0.33,0.25,0.18,0.13,0.13,0.2,0.23,0.84,0.6,0.43,
            0.08,0.28,0.28,0.48,0.28,0.18]

# CHLA seg 86
chla86_tb = [2013.25,2013.31,2013.35,2013.37,2013.46,2013.58,2013.64,2013.73,2013.82,2013.94,
             2014.24,2014.31,2014.33,2014.36,2014.48,2014.60,2014.69,2014.78,2014.90,2015.02,
             2015.26,2015.27,2015.32,2015.44,2015.56,2015.68,2015.80,2015.97,2016.15,2016.30,
             2016.33,2016.45,2016.57,2016.69,2016.87,2017.05,2017.27,2017.29,2017.35,2017.47,
             2017.65,2017.77,2017.95,2018.31,2018.34,2018.37,2018.55,2018.64,2018.79,2018.97,
             2019.30,2019.33,2019.57,2019.69,2019.87,2020.00]
chla86_base = [9.5,5.7,81,17,13,40,58.6,47,21,3.8,
               1.1,1.9,47,13,17,32,62,51,17,2.6,
               1.9,36,13,9.5,36,104,77,13,2.6,3.8,
               17,24.6,66,51,13,1.9,1.9,28,9.5,9.5,
               51,36,5.7,1.9,24.6,5.7,17,58.6,17,2.6,
               1.9,17,24.6,22.7,9.5,1.1]
chla86_t = [2013.25,2013.35,2013.37,2013.46,2013.52,2013.58,2013.61,2013.70,2013.82,2013.94,
            2014.24,2014.33,2014.36,2014.42,2014.48,2014.54,2014.66,2014.78,2014.90,2015.02,
            2015.26,2015.27,2015.32,2015.44,2015.56,2015.59,2015.62,2015.65,2015.68,2015.74,
            2015.86,2015.91,2016.15,2016.33,2016.51,2016.57,2016.63,2016.75,2016.93,2017.11,
            2017.27,2017.29,2017.35,2017.47,2017.65,2017.77,2017.83,2017.95,2018.01,2018.31,
            2018.34,2018.37,2018.55,2018.61,2018.64,2018.79,2018.97,2019.30,2019.33,2019.51,
            2019.57,2019.63,2019.66,2019.75,2019.87,2019.93,2020.00]
chla86_q4 = [9.5,81,17,13,30,51,50,47,24.6,5.7,
             1.1,51,17,19,21,35,58.6,51,21,3.8,
             1.9,43,17,13,47,70,85,92,88,77,
             35,13,3.8,21,51,57,60,47,17,2.6,
             1.9,28,9.5,11,47,32,25,5.7,3,1.9,
             24.6,7.6,32,55,66,24.6,2.6,1.9,17,30,
             38,38,38,28,13,5.7,1.1]
chla86_q8 = [9.5,81,17,15,45,68,65,55,24.6,5.7,
             1.1,47,21,25,30,40,51,24.6,7.6,2.6,
             1.9,40,17,15,51,70,85,80,70,58.6,
             15,9.5,3,21,55,64,62,36,9.5,2.6,
             1.9,28,9.5,11,36,24.6,15,5.7,3,1.9,
             24.6,9.5,55,83,80,32,2.6,1.9,21,45,
             60,58,55,36,13,5.7,1.1]
chla86_q12 = [9.5,77,17,15,32,55,62,40,13,2.6,
              1.1,47,21,30,24.6,20,40,17,3.8,1.9,
              1.9,40,21,17,50,68,60,50,55,35,
              5.7,3.8,2.6,17,40,47,45,32,5.7,1.9,
              1.9,32,7.6,9.5,26,17,9.5,3,1.9,1.9,
              24.6,11,92,85,70,17,2.6,1.9,21,41.6,
              40,32,28,20,7.6,3.8,1.1]

# ---------------- panel table (built from the named lists) ----------------
panels = [
    ("TDS", 5, tds5_t, tds5_base, tds5_t, tds5_q4, tds5_q8, tds5_q12),
    ("TDS", 32, tds32_tb, tds32_base, tds32_t, tds32_q4, tds32_q8, tds32_q12),
    ("TDS", 86, tds86_tb, tds86_base, tds86_t, tds86_q4, tds86_q8, tds86_q12),
    ("DOC", 5, doc5_tb, doc5_base, doc5_t, doc5_q4, doc5_q8, doc5_q12),
    ("DOC", 32, doc32_tb, doc32_base, doc32_t, doc32_q4, doc32_q8, doc32_q12),
    ("DOC", 86, doc86_tb, doc86_base, doc86_t, doc86_q4, doc86_q8, doc86_q12),
    ("TP", 5, tp5_tb, tp5_base, tp5_t, tp5_q4, tp5_q8, tp5_q12),
    ("TP", 32, tp32_tb, tp32_base, tp32_t, tp32_q4, tp32_q8, tp32_q12),
    ("TP", 86, tp86_tb, tp86_base, tp86_t, tp86_q4, tp86_q8, tp86_q12),
    ("TN", 5, tn5_tb, tn5_base, tn5_t, tn5_q4, tn5_q8, tn5_q12),
    ("TN", 32, tn32_tb, tn32_base, tn32_t, tn32_q4, tn32_q8, tn32_q12),
    ("TN", 86, tn86_tb, tn86_base, tn86_t, tn86_q4, tn86_q8, tn86_q12),
    ("CHLA", 5, chla5_tb, chla5_base, chla5_t, chla5_q4, chla5_q8, chla5_q12),
    ("CHLA", 32, chla32_tb, chla32_base, chla32_t, chla32_q4, chla32_q8, chla32_q12),
    ("CHLA", 86, chla86_tb, chla86_base, chla86_t, chla86_q4, chla86_q8, chla86_q12),
]

# ---------------- styling ----------------
W, H = 1357, 939
FONT = "Arial, 'Liberation Sans', Helvetica, sans-serif"
colors = ["#0072BD", "#D95319", "#EDB120", "#7E2F8E"]
AX_COLOR = "#8c8c8c"
TXT = "#262626"

col_px = [(91, 467), (517, 893), (942, 1318)]
row_px = [(78, 210), (254, 388), (431, 564), (608, 741), (784, 917)]
title_px = [[60, 67, 64], [239, 241, 241], [417, 415, 417], [594, 594, 594], [770, 770, 770]]

fig = go.Figure()
annotations = []
layout_axes = {}

for k, (var, seg, tb, base, ta, q4, q8, q12) in enumerate(panels):
    r, c = divmod(k, 3)
    n = k + 1
    xname = "x" if n == 1 else f"x{n}"
    yname = "y" if n == 1 else f"y{n}"
    assert len(tb) == len(base), (var, seg, "base")
    for q in (q4, q8, q12):
        assert len(ta) == len(q), (var, seg, len(ta), len(q))

    series = [(tb, base), (ta, q4), (ta, q8), (ta, q12)]
    for i, (tt, vv) in enumerate(series):
        fig.add_trace(go.Scatter(
            x=tt, y=vv, mode="lines", name=series_names[i],
            line=dict(color=colors[i], width=1),
            xaxis=xname, yaxis=yname,
            showlegend=(k == 1), legendrank=i + 1,
            hoverinfo="skip",
        ))

    x0, x1 = col_px[c]
    y0, y1 = row_px[r]
    if r == 0 and c == 1:
        y0, y1 = 81, 212
    common = dict(showline=True, linecolor=AX_COLOR, linewidth=1, mirror="ticks",
                  ticks="inside", ticklen=4, tickwidth=1, tickcolor=AX_COLOR,
                  showgrid=False, zeroline=False, automargin=False,
                  tickfont=dict(family=FONT, size=15, color=TXT))
    layout_axes["xaxis" if n == 1 else f"xaxis{n}"] = dict(
        common, domain=[x0 / W, x1 / W], anchor=yname,
        range=[2013.25, 2020.0], tickvals=x_tick_years, ticktext=x_tick_labels,
        showticklabels=(r == 4))
    layout_axes["yaxis" if n == 1 else f"yaxis{n}"] = dict(
        common, domain=[1 - y1 / H, 1 - y0 / H], anchor=xname,
        range=[y_ticks[var][0], y_ticks[var][-1]],
        tickvals=y_ticks[var], ticktext=y_tick_labels[var],
        showticklabels=(c != 1), side=("right" if c == 2 else "left"))

    annotations.append(dict(
        text=f"<b>{var} seg {seg}</b>", x=(x0 + x1) / 2 / W, y=1 - title_px[r][c] / H,
        xref="paper", yref="paper", xanchor="center", yanchor="middle",
        showarrow=False, font=dict(family=FONT, size=21, color="#111111")))

annotations.append(dict(
    text="<b>Constant Flow Scenario</b>", x=704.5 / W, y=1 - 26 / H,
    xref="paper", yref="paper", xanchor="center", yanchor="middle",
    showarrow=False, font=dict(family=FONT, size=31.5, color="#111111")))
annotations.append(dict(
    text="<b>Concentrations (mg/l)</b>", x=27 / W, y=1 - 497 / H, textangle=-90,
    xref="paper", yref="paper", xanchor="center", yanchor="middle",
    showarrow=False, font=dict(family=FONT, size=31, color="#111111")))

# legend frame (opaque white box spanning the TDS seg 32 panel width)
legend_box = dict(type="rect", xref="paper", yref="paper",
                  x0=517 / W, x1=894 / W, y0=1 - 113 / H, y1=1 - 87 / H,
                  line=dict(color="#262626", width=1), fillcolor="white", layer="above")

fig.update_layout(
    template="none",
    width=W, height=H, autosize=False,
    margin=dict(l=0, r=0, t=0, b=0, pad=0),
    paper_bgcolor="white", plot_bgcolor="white",
    annotations=annotations,
    shapes=[legend_box],
    showlegend=True,
    legend=dict(orientation="h", x=517 / W, y=1 - 84 / H, xanchor="left", yanchor="top",
                bgcolor="rgba(0,0,0,0)", borderwidth=0,
                font=dict(family=FONT, size=13.5, color=TXT),
                itemwidth=40, traceorder="normal", tracegroupgap=0),
    **layout_axes,
)

fig.write_html(
    "out.html",
    config={"displayModeBar": False, "staticPlot": True},
    post_script="document.body.style.margin='0';document.body.style.padding='0';"
                "document.documentElement.style.overflow='hidden';",
)
